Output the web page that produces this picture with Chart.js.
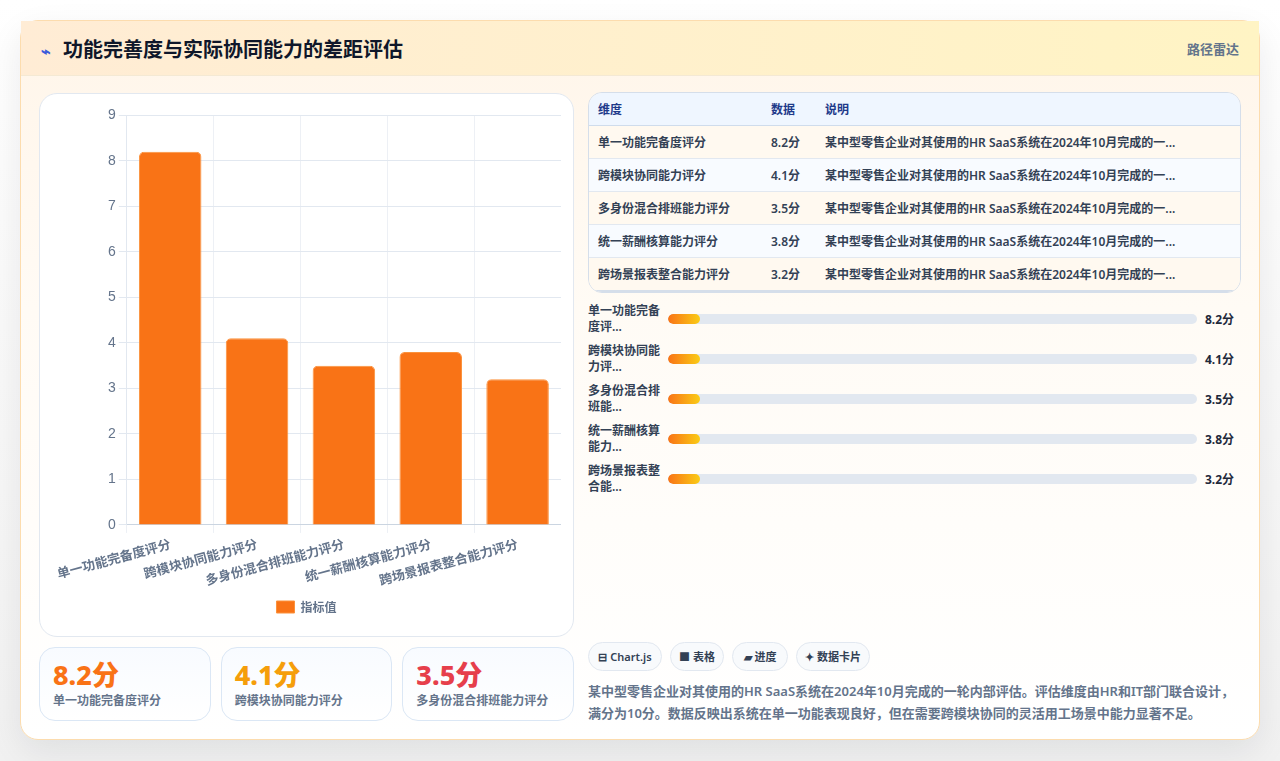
<!DOCTYPE html>
<html lang="zh-CN">
<head>
<meta charset="utf-8">
<title>功能完善度与实际协同能力的差距评估</title>
<script src="https://cdn.jsdelivr.net/npm/chart.js@4"></script>
<style>
* { box-sizing: border-box; }
html, body { margin: 0; height: 761px; overflow: hidden; }
body {
    background: linear-gradient(180deg, #ffffff 0%, #f1f1f1 100%);
    font-family: "Noto Sans", "Noto Sans CJK SC", sans-serif;
    position: relative;
}
.panel {
    position: absolute; left: 20px; top: 20px; width: 1240px; height: 720px;
    border: 1px solid #fcdcae; border-radius: 18px;
    background: linear-gradient(180deg, #fff5e9 0%, #fffbf5 40%, #ffffff 100%);
    box-shadow: 0 12px 34px rgba(15, 23, 42, .08);
}
.head {
    height: 55px; padding: 0 20px; display: flex; align-items: center; justify-content: space-between;
    background: linear-gradient(90deg, #ffecd5, #fff4c4); border-bottom: 1px solid #f4e9d4;
}
.head h1 { margin: 0; font-size: 20px; font-weight: 700; color: #0f172a; }
.head h1 i { font-style: normal; color: #3b5bdb; font-size: 16px; margin-right: 12px; }
.head span { font-size: 13px; font-weight: 600; color: #64748b; }
.chart-box {
    position: absolute; left: 18px; top: 72px; width: 535px; height: 544px;
    background: #fff; border: 1px solid #e2e8f0; border-radius: 18px; padding: 10px 12px 13px;
}
.chart-box div { position: relative; width: 100%; height: 100%; }
.stats { position: absolute; left: 18px; top: 626px; width: 535px; display: flex; gap: 10px; }
.stat {
    flex: 1; height: 74px; padding: 10px 13px; border: 1px solid #dbe7f5; border-radius: 16px;
    background: linear-gradient(180deg, #f8fbff, #ffffff);
}
.stat b { display: block; font-size: 27px; line-height: 33px; font-weight: 800; }
.stat small { display: block; font-size: 12px; line-height: 20px; font-weight: 600; color: #64748b; }
.right { position: absolute; left: 567px; top: 71px; width: 653px; }
table {
    width: 100%; border-collapse: separate; border-spacing: 0; table-layout: fixed;
    border: 1px solid #d5deea; border-radius: 14px; overflow: hidden; font-size: 12px;
}
th { height: 33px; background: #eff6ff; color: #1e3a8a; text-align: left; font-weight: 700; padding: 0 9px; border-bottom: 1px solid #cfdcec; }
td { height: 33px; color: #334155; font-weight: 600; padding: 0 9px; border-bottom: 1px solid #e2e8f0; white-space: nowrap; }
tr:last-child td { height: 34px; border-bottom: 2px solid #d5deea; }
tbody tr:nth-child(odd) td { background: #fff9f0; }
tbody tr:nth-child(even) td { background: #f8fbff; }
.rows { position: absolute; left: 0; top: 207px; width: 653px; }
.row { height: 40px; display: flex; align-items: center; }
.row label { width: 72px; font-size: 12px; line-height: 16px; font-weight: 600; color: #334155; margin-right: 8px; }
.track { width: 529px; height: 10px; background: #e2e8f0; border-radius: 5px; overflow: hidden; }
.fill { width: 32px; height: 100%; border-radius: 5px; background: linear-gradient(90deg, #f97316, #facc15); }
.row b { margin-left: 8px; font-size: 12px; font-weight: 700; color: #1e293b; }
.tags { position: absolute; left: 0; top: 550px; display: flex; gap: 8px; }
.tag {
    height: 29px; border: 1px solid #e2e8f0; border-radius: 15px; background: #f8fafc; text-align: center;
    font-size: 11px; line-height: 27px; font-weight: 600; color: #334155; white-space: nowrap;
}
.tag:nth-child(1) { width: 74px; }
.tag:nth-child(2) { width: 54px; }
.tag:nth-child(3) { width: 56px; }
.tag:nth-child(4) { width: 74px; }
.note { position: absolute; left: 0; top: 588px; width: 653px; margin: 0; font-size: 13px; line-height: 22px; font-weight: 600; color: #64748b; }
</style>
</head>
<body>
<div class="panel">
    <div class="head">
        <h1><i>⌁</i>功能完善度与实际协同能力的差距评估</h1>
        <span>路径雷达</span>
    </div>
    <div class="chart-box"><div><canvas id="scoreChart"></canvas></div></div>
    <div class="stats" id="stats"></div>
    <div class="right">
        <table>
            <colgroup><col style="width:173px"><col style="width:54px"><col></colgroup>
            <thead><tr><th>维度</th><th>数据</th><th>说明</th></tr></thead>
            <tbody id="rows"></tbody>
        </table>
        <div class="rows" id="progress"></div>
        <div class="tags" id="tags"></div>
        <p class="note">某中型零售企业对其使用的HR SaaS系统在2024年10月完成的一轮内部评估。评估维度由HR和IT部门联合设计，满分为10分。数据反映出系统在单一功能表现良好，但在需要跨模块协同的灵活用工场景中能力显著不足。</p>
    </div>
</div>
<script>
const categories = ["单一功能完备度评分", "跨模块协同能力评分", "多身份混合排班能力评分", "统一薪酬核算能力评分", "跨场景报表整合能力评分"];
const scores = [8.2, 4.1, 3.5, 3.8, 3.2];
const shortNames = ["单一功能完备度评...", "跨模块协同能力评...", "多身份混合排班能...", "统一薪酬核算能力...", "跨场景报表整合能..."];
const statColors = ["#f97316", "#f59e0b", "#e63f4b"];
const yTicks = [0, 1, 2, 3, 4, 5, 6, 7, 8, 9];
const tagNames = ["⊟ Chart.js", "■ 表格", "▰ 进度", "✦ 数据卡片"];
const detail = "某中型零售企业对其使用的HR SaaS系统在2024年10月完成的一...";

// top three scores go into the cards under the chart
document.getElementById("stats").innerHTML = statColors.map((color, i) =>
    `<div class="stat"><b style="color:${color}">${scores[i].toFixed(1)}分</b><small>${categories[i]}</small></div>`).join("");

document.getElementById("rows").innerHTML = categories.map((name, i) =>
    `<tr><td>${name}</td><td>${scores[i].toFixed(1)}分</td><td>${detail}</td></tr>`).join("");

document.getElementById("progress").innerHTML = categories.map((name, i) =>
    `<div class="row"><label>${shortNames[i]}</label><div class="track"><div class="fill"></div></div><b>${scores[i].toFixed(1)}分</b></div>`).join("");

document.getElementById("tags").innerHTML = tagNames.map(t => `<span class="tag">${t}</span>`).join("");

const config = {
    type: "bar",
    data: {
        labels: categories,
        datasets: [{
            label: "指标值",
            data: scores,
            backgroundColor: "#f97316",
            borderColor: "#fb923c",
            borderWidth: 1,
            borderRadius: 5,
            borderSkipped: "bottom"
        }]
    },
    options: {
        responsive: true,
        maintainAspectRatio: false,
        animation: false,
        plugins: {
            legend: {
                position: "bottom",
                labels: { boxWidth: 18, boxHeight: 12, color: "#64748b", font: { family: "'Noto Sans CJK SC'", size: 12, weight: "600" } }
            }
        },
        scales: {
            x: {
                grid: { color: "#edf0f5" },
                border: { color: "#cbd5e1" },
                ticks: {
                    color: "#64748b", minRotation: 15, maxRotation: 15,
                    font: { family: "'Noto Sans CJK SC'", size: 13, weight: "700" }
                }
            },
            y: {
                min: 0,
                max: yTicks[yTicks.length - 1],
                grid: { color: "#e2e8f0" },
                border: { color: "#e2e8f0" },
                ticks: { stepSize: 1, color: "#64748b", font: { family: "'Liberation Sans'", size: 14 } }
            }
        }
    }
};
new Chart(document.getElementById("scoreChart"), config);
</script>
</body>
</html>
